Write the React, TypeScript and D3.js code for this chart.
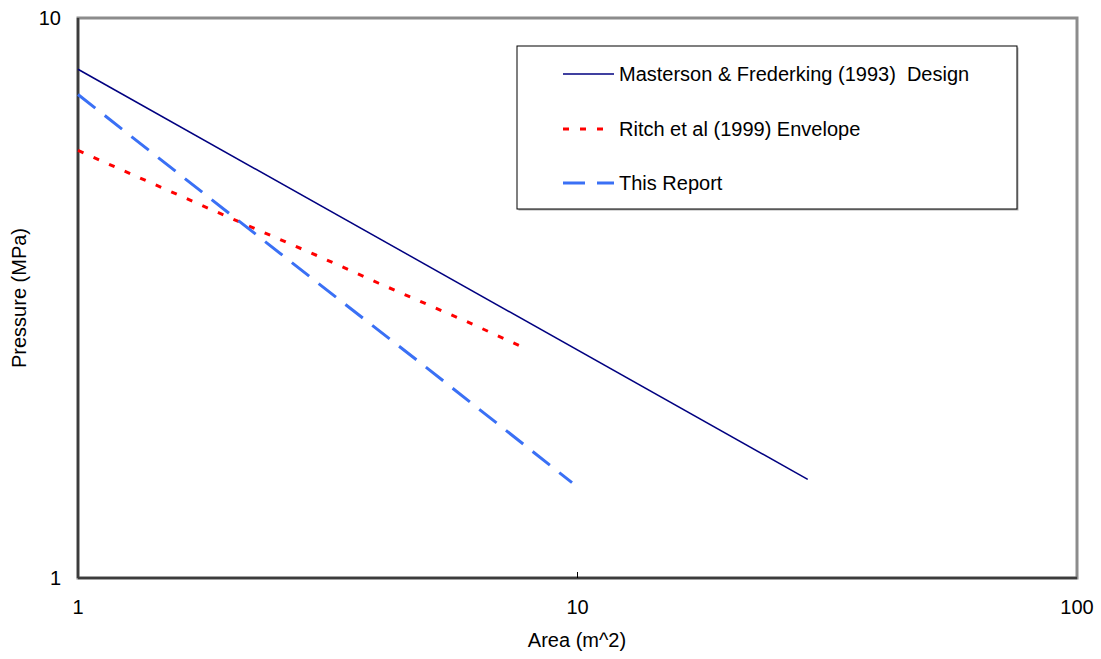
import React from "react";
import * as d3 from "d3";

// Pressure–area curves (log–log)
const mastersonArea = [1, 28.9];
const mastersonPressure = [8.1, 1.5];

const ritchArea = [1, 2, 3, 4, 6, 7.8];
const ritchPressure = [5.8, 4.41, 3.77, 3.36, 2.87, 2.58];

const reportArea = [1, 2, 3, 5, 7, 9.75];
const reportPressure = [7.3, 4.49, 3.38, 2.37, 1.87, 1.48];

const xTicks = [1, 10, 100];
const yTicks = [1, 10];

const seriesNames = [
  "Masterson & Frederking (1993)  Design",
  "Ritch et al (1999) Envelope",
  "This Report",
];

const W = 1101;
const H = 659;
const plot = { left: 78, right: 1077, top: 18, bottom: 578 };
const font = "Liberation Sans, Arial, sans-serif";

const styles = [
  { stroke: "#000080", width: 1.5, dash: "" },
  { stroke: "#ff0000", width: 3, dash: "6 11" },
  { stroke: "#3a70f5", width: 3, dash: "22 12" },
];

export default function App() {
  const x = d3.scaleLog().domain([1, 100]).range([plot.left, plot.right]);
  const y = d3.scaleLog().domain([1, 10]).range([plot.bottom, plot.top]);
  const line = d3
    .line<[number, number]>()
    .x((d) => x(d[0]))
    .y((d) => y(d[1]));

  const series = [
    d3.zip(mastersonArea, mastersonPressure) as [number, number][],
    d3.zip(ritchArea, ritchPressure) as [number, number][],
    d3.zip(reportArea, reportPressure) as [number, number][],
  ];

  const legend = { x: 517, y: 46, w: 500, h: 163 };
  const rowY = [74, 129, 183];

  return (
    <svg
      width={W}
      height={H}
      style={{ position: "absolute", left: 0, top: 0, background: "#fff" }}
      fontFamily={font}
    >
      {/* plot frame */}
      <rect
        x={plot.left}
        y={plot.top}
        width={plot.right - plot.left}
        height={plot.bottom - plot.top}
        fill="none"
        stroke="#8c8c8c"
        strokeWidth={3}
      />
      <line x1={plot.left} x2={plot.left} y1={plot.top} y2={plot.bottom} stroke="#3c3c3c" strokeWidth={2.5} />
      <line x1={plot.left} x2={plot.right} y1={plot.bottom} y2={plot.bottom} stroke="#3c3c3c" strokeWidth={2.5} />

      {/* inner tick at x = 10 */}
      <line x1={x(10)} x2={x(10)} y1={plot.bottom - 6} y2={plot.bottom} stroke="#000" strokeWidth={1} />

      {/* tick labels */}
      {xTicks.map((t) => (
        <text key={"x" + t} x={x(t)} y={614} textAnchor="middle" fontSize={20} fill="#000">
          {t}
        </text>
      ))}
      {yTicks.map((t) => (
        <text key={"y" + t} x={61} y={y(t) + 7} textAnchor="end" fontSize={20} fill="#000">
          {t}
        </text>
      ))}

      {/* axis titles */}
      <text x={577} y={647} textAnchor="middle" fontSize={20} fill="#000">
        Area (m^2)
      </text>
      <text
        transform={`translate(26, ${298}) rotate(-90)`}
        textAnchor="middle"
        fontSize={20}
        fill="#000"
      >
        Pressure (MPa)
      </text>

      {/* curves */}
      {series.map((s, i) => (
        <path
          key={i}
          d={line(s) || ""}
          fill="none"
          stroke={styles[i].stroke}
          strokeWidth={styles[i].width}
          strokeDasharray={styles[i].dash}
        />
      ))}

      {/* legend */}
      <rect x={legend.x + 1.5} y={legend.y + 1.5} width={legend.w} height={legend.h} fill="#b0b0b0" />
      <rect x={legend.x} y={legend.y} width={legend.w} height={legend.h} fill="#fff" stroke="#000" strokeWidth={1} />
      {seriesNames.map((name, i) => (
        <g key={name}>
          <line
            x1={563}
            x2={614}
            y1={rowY[i]}
            y2={rowY[i]}
            stroke={styles[i].stroke}
            strokeWidth={styles[i].width}
            strokeDasharray={styles[i].dash}
          />
          <text x={619} y={rowY[i] + 7} fontSize={20} fill="#000" style={{ whiteSpace: "pre" }}>
            {name}
          </text>
        </g>
      ))}
    </svg>
  );
}
